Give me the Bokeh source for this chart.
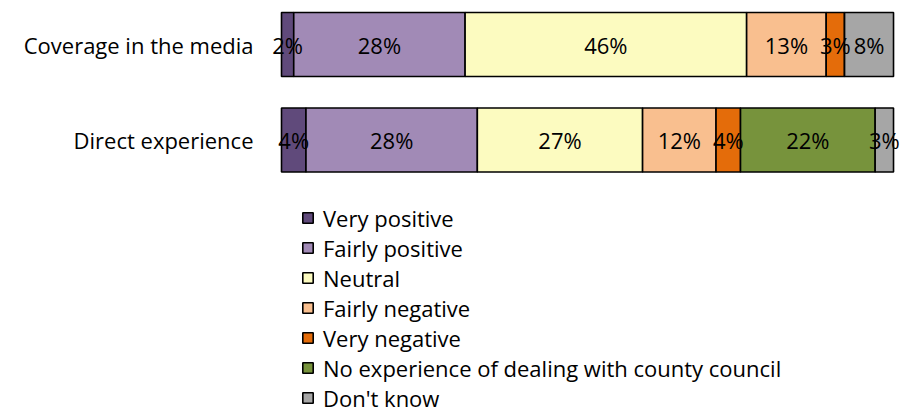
import numpy as np
from bokeh.plotting import figure
from bokeh.models import ColumnDataSource, Range1d, FixedTicker, LabelSet
from bokeh.core.properties import value
from bokeh.embed import file_html
from bokeh.resources import INLINE

# ---- data ----
categories = ["Coverage in the media", "Direct experience"]
series = ["Very positive", "Fairly positive", "Neutral", "Fairly negative",
          "Very negative", "No experience of dealing with county council", "Don't know"]
very_positive = [2, 4]
fairly_positive = [28, 28]
neutral = [46, 27]
fairly_negative = [13, 12]
very_negative = [3, 4]
no_experience = [0, 22]
dont_know = [8, 3]
colors = ["#604A7B", "#A18AB6", "#FCFBC0", "#F9BF8F", "#E46C0A", "#77933C", "#A6A6A6"]

FONT = "Open Sans"
FSIZE = "22px"

values = [very_positive, fairly_positive, neutral, fairly_negative,
          very_negative, no_experience, dont_know]
keys = ["s%d" % i for i in range(len(series))]
ys = [len(categories) - 1 - i for i in range(len(categories))]

data = {"y": ys}
for k, v in zip(keys, values):
    data[k] = v
source = ColumnDataSource(data)

p = figure(width=900, height=407, output_backend="svg", toolbar_location=None,
           x_range=Range1d(-3.268, 101.14), y_range=Range1d(-2.801, 1.461),
           min_border_left=261, min_border_right=0, min_border_top=0,
           min_border_bottom=0)

p.hbar_stack(keys, y="y", height=0.67, source=source, fill_color=colors,
             line_color="black", line_width=1.6, legend_label=series)

# data labels
arr = np.array(values, dtype=float)  # series x categories
cum = np.cumsum(arr, axis=0) - arr
lx, ly, lt = [], [], []
for si in range(arr.shape[0]):
    for ci in range(arr.shape[1]):
        v = arr[si, ci]
        if v > 0:
            lx.append(cum[si, ci] + v / 2)
            ly.append(ys[ci])
            lt.append("%d%%" % round(v))
lsrc = ColumnDataSource(dict(x=lx, y=ly, text=lt))
labels = LabelSet(x="x", y="y", text="text", source=lsrc,
                  text_align="center", text_baseline="middle",
                  text_font=value(FONT), text_font_size=value(FSIZE),
                  text_color="black")
p.add_layout(labels)

# axes
p.xaxis.visible = False
yax = p.yaxis[0]
yax.ticker = FixedTicker(ticks=ys)
yax.major_label_overrides = {y: c for y, c in zip(ys, categories)}
yax.axis_line_color = None
yax.major_tick_line_color = None
yax.major_tick_out = 0
yax.major_tick_in = 0
yax.minor_tick_line_color = None
yax.major_label_standoff = 8
yax.major_label_text_font = FONT
yax.major_label_text_font_size = FSIZE
yax.major_label_text_color = "black"

p.xgrid.visible = False
p.ygrid.visible = False
p.outline_line_color = None

leg = p.legend[0]
leg.location = (40, -5.7)
leg.border_line_color = None
leg.background_fill_alpha = 0
leg.padding = 0
leg.margin = 0
leg.spacing = 0
leg.glyph_width = 13
leg.glyph_height = 13
leg.label_height = 30
leg.label_standoff = 9
leg.label_text_font = FONT
leg.label_text_font_size = FSIZE
leg.label_text_color = "black"

open("out.html", "w").write(file_html(p, INLINE))
